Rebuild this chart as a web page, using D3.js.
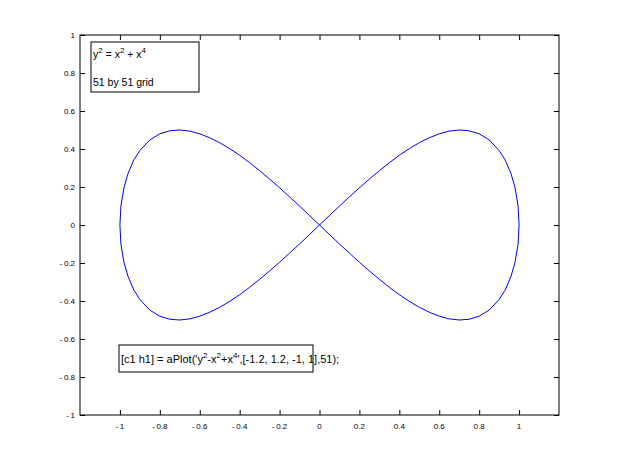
<!DOCTYPE html>
<html>
<head>
<title>aPlot contour</title>
<script src="https://d3js.org/d3.v7.min.js"></script>
<style>
  body { margin: 0; background: #fff; }
  text { font-family: "Liberation Sans", Arial, sans-serif; }
</style>
</head>
<body>
<svg width="618" height="467"></svg>
<script>
// tick values
var xTicks = [-1, -0.8, -0.6, -0.4, -0.2, 0, 0.2, 0.4, 0.6, 0.8, 1];
var yTicks = [-1, -0.8, -0.6, -0.4, -0.2, 0, 0.2, 0.4, 0.6, 0.8, 1];

// contour points (figure eight, traced once)
var curveX = [
  0, 0.05, 0.1, 0.15, 0.2, 0.25, 0.3, 0.35, 0.4, 0.45, 0.5, 0.55, 0.6, 0.65, 0.7, 0.75, 0.8, 0.85, 0.9, 0.93, 0.96, 0.98, 0.995, 1.0,
  0.995, 0.98, 0.96, 0.93, 0.9, 0.85, 0.8, 0.75, 0.7, 0.65, 0.6, 0.55, 0.5, 0.45, 0.4, 0.35, 0.3, 0.25, 0.2, 0.15, 0.1, 0.05, 0,
  -0.05, -0.1, -0.15, -0.2, -0.25, -0.3, -0.35, -0.4, -0.45, -0.5, -0.55, -0.6, -0.65, -0.7, -0.75, -0.8, -0.85, -0.9, -0.93, -0.96, -0.98, -0.995, -1.0,
  -0.995, -0.98, -0.96, -0.93, -0.9, -0.85, -0.8, -0.75, -0.7, -0.65, -0.6, -0.55, -0.5, -0.45, -0.4, -0.35, -0.3, -0.25, -0.2, -0.15, -0.1, -0.05, 0
];
var curveY = [
  0, 0.05, 0.1, 0.148, 0.196, 0.242, 0.286, 0.328, 0.367, 0.402, 0.433, 0.459, 0.48, 0.494, 0.5, 0.496, 0.48, 0.448, 0.392, 0.343, 0.269, 0.195, 0.1, 0,
  -0.1, -0.195, -0.269, -0.343, -0.392, -0.448, -0.48, -0.496, -0.5, -0.494, -0.48, -0.459, -0.433, -0.402, -0.367, -0.328, -0.286, -0.242, -0.196, -0.148, -0.1, -0.05, 0,
  0.05, 0.1, 0.148, 0.196, 0.242, 0.286, 0.328, 0.367, 0.402, 0.433, 0.459, 0.48, 0.494, 0.5, 0.496, 0.48, 0.448, 0.392, 0.343, 0.269, 0.195, 0.1, 0,
  -0.1, -0.195, -0.269, -0.343, -0.392, -0.448, -0.48, -0.496, -0.5, -0.494, -0.48, -0.459, -0.433, -0.402, -0.367, -0.328, -0.286, -0.242, -0.196, -0.148, -0.1, -0.05, 0
];

var axLeft = 80, axRight = 559, axTop = 35, axBottom = 415;
var svg = d3.select("svg");

var x = d3.scaleLinear().domain([-1.2, 1.2]).range([axLeft, axRight]);
var y = d3.scaleLinear().domain([-1, 1]).range([axBottom, axTop]);

var tickFmt = function(d){ return String(d).replace("-", "-\u2009"); };

// axes, ticks pointing inward like matlab
svg.append("g")
  .attr("transform", "translate(0," + axBottom + ")")
  .call(d3.axisTop(x).tickValues(xTicks).tickSize(5).tickFormat(""));
svg.append("g")
  .attr("transform", "translate(0," + axTop + ")")
  .call(d3.axisBottom(x).tickValues(xTicks).tickSize(5).tickFormat(""));
svg.append("g")
  .attr("transform", "translate(" + axLeft + ",0)")
  .call(d3.axisRight(y).tickValues(yTicks).tickSize(5).tickFormat(""));
svg.append("g")
  .attr("transform", "translate(" + axRight + ",0)")
  .call(d3.axisLeft(y).tickValues(yTicks).tickSize(5).tickFormat(""));
svg.selectAll(".domain").remove();
svg.selectAll(".tick text").remove();
svg.selectAll(".tick line").attr("stroke", "#000");

svg.append("rect")
  .attr("x", axLeft).attr("y", axTop)
  .attr("width", axRight - axLeft).attr("height", axBottom - axTop)
  .attr("fill", "none").attr("stroke", "#000");

// tick labels
svg.selectAll(".xlab").data(xTicks).enter().append("text")
  .attr("class", "xlab")
  .attr("x", function(d){ return x(d); })
  .attr("y", axBottom + 14)
  .attr("text-anchor", "middle")
  .attr("font-size", "8px")
  .text(tickFmt);
svg.selectAll(".ylab").data(yTicks).enter().append("text")
  .attr("class", "ylab")
  .attr("x", axLeft - 5)
  .attr("y", function(d){ return y(d) + 3; })
  .attr("text-anchor", "end")
  .attr("font-size", "8px")
  .text(tickFmt);

// the contour
var pts = curveX.map(function(v, i){ return [v, curveY[i]]; });
svg.append("path")
  .datum(pts)
  .attr("fill", "none")
  .attr("stroke", "#0000ff")
  .attr("stroke-width", 1)
  .attr("d", d3.line().x(function(d){ return x(d[0]); }).y(function(d){ return y(d[1]); }));

// text box top left
svg.append("rect")
  .attr("x", 91).attr("y", 42).attr("width", 108).attr("height", 50)
  .attr("fill", "none").attr("stroke", "#000");
var t1 = svg.append("text").attr("x", 93).attr("y", 58).attr("font-size", "10.5px");
t1.append("tspan").text("y");
t1.append("tspan").attr("dy", -5).attr("font-size", "8px").text("2");
t1.append("tspan").attr("dy", 5).text(" = x");
t1.append("tspan").attr("dy", -5).attr("font-size", "8px").text("2");
t1.append("tspan").attr("dy", 5).text(" + x");
t1.append("tspan").attr("dy", -5).attr("font-size", "8px").text("4");
svg.append("text").attr("x", 93).attr("y", 86).attr("font-size", "10.5px").text("51 by 51 grid");

// text box bottom
svg.append("rect")
  .attr("x", 119).attr("y", 345).attr("width", 194).attr("height", 27)
  .attr("fill", "none").attr("stroke", "#000");
var t2 = svg.append("text").attr("x", 121).attr("y", 363).attr("font-size", "11px");
t2.append("tspan").text("[c1 h1] = aPlot('y");
t2.append("tspan").attr("dy", -5).attr("font-size", "8px").text("2");
t2.append("tspan").attr("dy", 5).text("-x");
t2.append("tspan").attr("dy", -5).attr("font-size", "8px").text("2");
t2.append("tspan").attr("dy", 5).text("+x");
t2.append("tspan").attr("dy", -5).attr("font-size", "8px").text("4");
t2.append("tspan").attr("dy", 5).text("',[-1.2, 1.2, -1, 1],51);");
</script>
</body>
</html>
